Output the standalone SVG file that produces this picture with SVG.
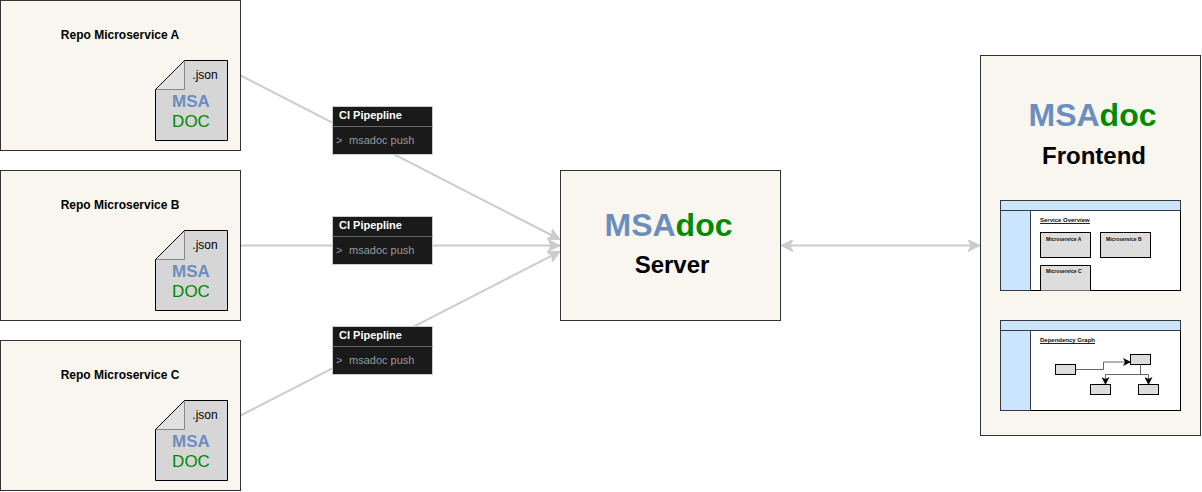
<svg xmlns="http://www.w3.org/2000/svg" width="1202" height="492" viewBox="0 0 1202 492">
<style>
text{font-family:"Liberation Sans",Arial,sans-serif}
.box{fill:#f8f6ee;stroke:#333;stroke-width:1}
.doc{fill:#d6d6d6;stroke:none}
.out{fill:none;stroke:#000;stroke-width:1}
.fold{fill:#e0e0e0;stroke:#888;stroke-width:1}
.rt{font-size:12px;font-weight:bold;fill:#000;text-anchor:middle}
.js{font-size:12px;fill:#000;text-anchor:middle}
.m{font-size:17px;font-weight:bold;fill:#6c8ebf;text-anchor:middle}
.d{font-size:17px;fill:#008a00;text-anchor:middle}
.ci{fill:#1a1a1a;stroke:#ccc;stroke-width:1}
.cil{stroke:#666;stroke-width:1;fill:none}
.cit{font-size:11px;font-weight:bold;fill:#fff}
.cic{font-size:11px;fill:#999}
.conn{fill:none;stroke:#ccc;stroke-width:2}
.big{font-size:32px;font-weight:bold}
.sub{font-size:24px;font-weight:bold;fill:#000;text-anchor:middle}
.blue{fill:#cce5ff;stroke:#36393d;stroke-width:1}
.white{fill:#fff;stroke:#000;stroke-width:1}
.svc{fill:#ddd;stroke:#000;stroke-width:1}
.tt{font-size:6px;font-weight:bold;fill:#000;opacity:.95}
.ul{fill:none;stroke:#222;stroke-width:1}
.st{font-size:5px;font-weight:bold;fill:#000;opacity:.95}
.g{fill:none;stroke:#666;stroke-width:1}
</style>
<defs>
<marker id="a" viewBox="0 0 12 12" refX="12" refY="6" markerWidth="12" markerHeight="12" markerUnits="userSpaceOnUse" orient="auto-start-reverse"><path d="M0 0L12 6L0 12L3 6Z" fill="#ccc" stroke="#ccc" stroke-width="1"/></marker>
<marker id="s" viewBox="0 0 8 8" refX="7" refY="4" markerWidth="8" markerHeight="8" markerUnits="userSpaceOnUse" orient="auto"><path d="M0 0L8 4L0 8L2 4Z" fill="#000"/></marker>
</defs>
<g id="connectors">
<path class="conn" d="M240.500 75.500L560 239.500" marker-end="url(#a)"/>
<path class="conn" d="M240.500 245.500L560 245.500" marker-end="url(#a)"/>
<path class="conn" d="M240.500 415.500L560 251.500" marker-end="url(#a)"/>
<path class="conn" d="M781 245.500L980 245.500" marker-start="url(#a)" marker-end="url(#a)"/>
</g>
<g id="repo-a">
<rect class="box" x="0.500" y="0.500" width="240" height="150"/>
<text class="rt" x="120" y="39">Repo Microservice A</text>
<path class="doc" d="M184.500 60.500H227.500V140.500H155.500V89.500Z"/>
<path class="fold" d="M184.500 60.500V89.500H155.500"/>
<path class="out" d="M184.500 60.500H227.500V140.500H155.500V89.500Z"/>
<text class="js" x="205" y="79">.json</text>
<text class="m" x="191" y="107">MSA</text>
<text class="d" x="191" y="127">DOC</text>
</g>
<g id="repo-b">
<rect class="box" x="0.500" y="170.500" width="240" height="150"/>
<text class="rt" x="120" y="209">Repo Microservice B</text>
<path class="doc" d="M184.500 230.500H227.500V310.500H155.500V259.500Z"/>
<path class="fold" d="M184.500 230.500V259.500H155.500"/>
<path class="out" d="M184.500 230.500H227.500V310.500H155.500V259.500Z"/>
<text class="js" x="205" y="249">.json</text>
<text class="m" x="191" y="277">MSA</text>
<text class="d" x="191" y="297">DOC</text>
</g>
<g id="repo-c">
<rect class="box" x="0.500" y="340.500" width="240" height="150"/>
<text class="rt" x="120" y="379">Repo Microservice C</text>
<path class="doc" d="M184.500 400.500H227.500V480.500H155.500V429.500Z"/>
<path class="fold" d="M184.500 400.500V429.500H155.500"/>
<path class="out" d="M184.500 400.500H227.500V480.500H155.500V429.500Z"/>
<text class="js" x="205" y="419">.json</text>
<text class="m" x="191" y="447">MSA</text>
<text class="d" x="191" y="467">DOC</text>
</g>
<g id="ci-a">
<rect class="ci" x="332.500" y="106.500" width="100" height="48"/>
<path class="cil" d="M332.500 126.500H432.500"/>
<text class="cit" x="339" y="119">CI Pipepline</text>
<text class="cic" x="336" y="144">&gt;  <tspan x="349">msadoc push</tspan></text>
</g>
<g id="ci-b">
<rect class="ci" x="332.500" y="216.500" width="100" height="48"/>
<path class="cil" d="M332.500 236.500H432.500"/>
<text class="cit" x="339" y="229">CI Pipepline</text>
<text class="cic" x="336" y="254">&gt;  <tspan x="349">msadoc push</tspan></text>
</g>
<g id="ci-c">
<rect class="ci" x="332.500" y="326.500" width="100" height="48"/>
<path class="cil" d="M332.500 346.500H432.500"/>
<text class="cit" x="339" y="339">CI Pipepline</text>
<text class="cic" x="336" y="364">&gt;  <tspan x="349">msadoc push</tspan></text>
</g>
<g id="server">
<rect class="box" x="560.500" y="170.500" width="220" height="150"/>
<text class="big" x="668.500" y="236" text-anchor="middle"><tspan fill="#6c8ebf">MSA</tspan><tspan fill="#008a00">doc</tspan></text>
<text class="sub" x="672" y="273">Server</text>
</g>
<g id="frontend">
<rect class="box" x="980.500" y="55.500" width="220" height="380"/>
<text class="big" x="1092.500" y="126" text-anchor="middle"><tspan fill="#6c8ebf">MSA</tspan><tspan fill="#008a00">doc</tspan></text>
<text class="sub" x="1094" y="164">Frontend</text>
</g>
<g id="service-overview">
<rect class="white" x="1000.500" y="200.500" width="180" height="90"/>
<rect class="blue" x="1000.500" y="200.500" width="180" height="10"/>
<rect class="blue" x="1000.500" y="210.500" width="30" height="80"/>
<text class="tt" x="1040" y="222">Service Overview</text>
<path class="ul" d="M1040 223.500H1090"/>
<rect class="svc" x="1040.500" y="232.500" width="50" height="25"/>
<text class="st" x="1046" y="241">Microservice A</text>
<rect class="svc" x="1100.500" y="232.500" width="50" height="25"/>
<text class="st" x="1106" y="241">Microservice B</text>
<path class="svc" d="M1040.500 290.500V265.500H1090.500V290.500"/>
<text class="st" x="1046" y="273">Microservice C</text>
</g>
<g id="dependency-graph">
<rect class="white" x="1000.500" y="320.500" width="180" height="90"/>
<rect class="blue" x="1000.500" y="320.500" width="180" height="10"/>
<rect class="blue" x="1000.500" y="330.500" width="30" height="80"/>
<text class="tt" x="1040" y="342">Dependency Graph</text>
<path class="ul" d="M1040 343.500H1095"/>
<path class="g" d="M1075.500 369.500H1103.500V362H1130" marker-end="url(#s)"/>
<path class="g" d="M1140.500 364.500V374.500H1105.500V384" marker-end="url(#s)"/>
<path class="g" d="M1140.500 374.500H1148.500V384" marker-end="url(#s)"/>
<rect class="svc" x="1055.500" y="364.500" width="20" height="10"/>
<rect class="svc" x="1130.500" y="354.500" width="20" height="10"/>
<rect class="svc" x="1090.500" y="384.500" width="20" height="10"/>
<rect class="svc" x="1138.500" y="384.500" width="20" height="10"/>
</g>
</svg>
